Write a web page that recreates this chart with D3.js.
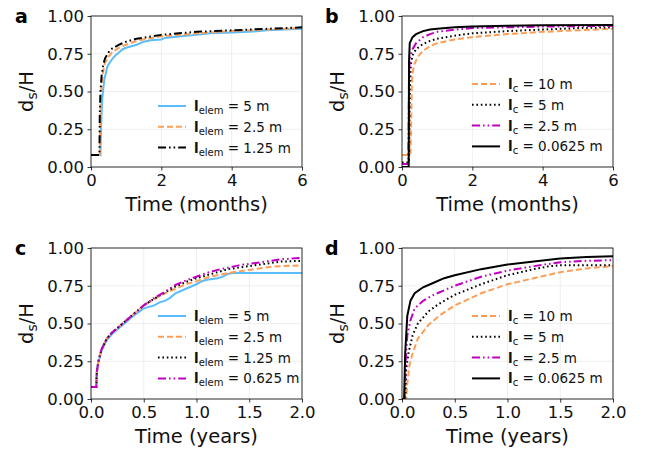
<!DOCTYPE html>
<html>
<head>
<meta charset="utf-8">
<title>Settlement curves</title>
<script src="https://d3js.org/d3.v7.min.js"></script>
<style>
  body { margin: 0; background: #fff; }
  text { font-family: 'DejaVu Sans', sans-serif; fill: #111; }
  .tick-label { font-size: 16.5px; }
  .axis-label { font-size: 19.5px; }
  .legend text { font-size: 13.5px; }
  .panel-label { font-size: 19px; font-weight: bold; fill: #000; }
  .grid line { stroke: #ebebeb; stroke-width: 0.8; }
  .curve { fill: none; stroke-width: 2; }
</style>
</head>
<body>
<script>
// tick values
var yTicks = [0, 0.25, 0.5, 0.75, 1.0];
var monthTicks = [0, 2, 4, 6];
var yearTicks = [0, 0.5, 1.0, 1.5, 2.0];

// panel a: element size, time in months
var aElem5 = [[0,0.08],[0.27,0.08],[0.28,0.2],[0.3,0.35],[0.32,0.45],[0.35,0.52],[0.38,0.58],[0.42,0.62],[0.46,0.66],[0.5,0.68],[0.56,0.7],[0.62,0.72],[0.7,0.74],[0.8,0.76],[0.9,0.78],[1.0,0.79],[1.15,0.8],[1.3,0.81],[1.5,0.83],[1.7,0.84],[2.0,0.845],[2.1,0.855],[2.5,0.865],[3.0,0.875],[3.4,0.885],[4.0,0.89],[4.5,0.895],[5.0,0.905],[5.5,0.91],[6.0,0.915]];
var aElem25 = [[0,0.08],[0.25,0.08],[0.26,0.3],[0.28,0.45],[0.3,0.55],[0.35,0.64],[0.4,0.69],[0.5,0.73],[0.6,0.76],[0.8,0.79],[1.0,0.81],[1.3,0.835],[1.6,0.85],[2.0,0.865],[2.5,0.875],[3.0,0.885],[4.0,0.9],[5.0,0.91],[6.0,0.92]];
var aElem125 = [[0,0.08],[0.24,0.08],[0.25,0.35],[0.27,0.5],[0.3,0.6],[0.35,0.68],[0.4,0.72],[0.5,0.76],[0.6,0.785],[0.8,0.81],[1.0,0.83],[1.3,0.85],[1.6,0.86],[2.0,0.875],[2.5,0.885],[3.0,0.895],[4.0,0.905],[5.0,0.915],[6.0,0.925]];

// panel b: correlation length, time in months
var bC10 = [[0,0.08],[0.24,0.08],[0.26,0.3],[0.28,0.55],[0.3,0.62],[0.35,0.68],[0.45,0.73],[0.6,0.77],[0.8,0.8],[1.0,0.82],[1.5,0.845],[2.0,0.86],[3.0,0.88],[4.0,0.895],[5.0,0.905],[6.0,0.915]];
var bC5 = [[0,0.03],[0.2,0.03],[0.22,0.5],[0.25,0.68],[0.3,0.74],[0.4,0.78],[0.6,0.815],[0.8,0.835],[1.0,0.85],[1.5,0.87],[2.0,0.885],[3.0,0.9],[4.0,0.91],[5.0,0.92],[6.0,0.925]];
var bC25 = [[0,0.02],[0.18,0.02],[0.2,0.6],[0.22,0.72],[0.3,0.78],[0.4,0.82],[0.6,0.86],[0.8,0.88],[1.0,0.895],[1.5,0.91],[2.0,0.92],[3.0,0.925],[4.0,0.93],[6.0,0.935]];
var bC00625 = [[0,0.0],[0.19,0.0],[0.2,0.7],[0.22,0.82],[0.3,0.86],[0.4,0.88],[0.6,0.9],[0.8,0.91],[1.0,0.915],[1.5,0.925],[2.0,0.93],[3.0,0.935],[4.0,0.938],[6.0,0.94]];

// panel c: element size, time in years
var cElem5 = [[0,0.08],[0.05,0.08],[0.055,0.18],[0.07,0.24],[0.1,0.32],[0.15,0.39],[0.2,0.43],[0.25,0.46],[0.3,0.49],[0.35,0.52],[0.4,0.55],[0.5,0.6],[0.6,0.62],[0.65,0.64],[0.7,0.65],[0.75,0.67],[0.8,0.7],[0.9,0.73],[1.0,0.76],[1.05,0.78],[1.1,0.79],[1.2,0.8],[1.25,0.81],[1.3,0.83],[1.35,0.835],[2.0,0.835]];
var cElem25 = [[0,0.08],[0.05,0.08],[0.055,0.18],[0.07,0.25],[0.1,0.33],[0.15,0.4],[0.2,0.44],[0.25,0.47],[0.3,0.5],[0.35,0.53],[0.4,0.56],[0.5,0.62],[0.6,0.66],[0.7,0.7],[0.8,0.73],[0.9,0.76],[1.0,0.78],[1.1,0.805],[1.2,0.82],[1.3,0.835],[1.4,0.845],[1.5,0.855],[1.6,0.865],[1.7,0.875],[1.8,0.88],[2.0,0.885]];
var cElem125 = [[0,0.08],[0.05,0.08],[0.055,0.18],[0.07,0.25],[0.1,0.33],[0.15,0.4],[0.2,0.44],[0.25,0.47],[0.3,0.5],[0.35,0.53],[0.4,0.56],[0.5,0.62],[0.6,0.665],[0.7,0.705],[0.8,0.745],[0.9,0.775],[1.0,0.8],[1.1,0.82],[1.2,0.84],[1.3,0.86],[1.4,0.87],[1.5,0.88],[1.6,0.89],[1.7,0.9],[1.8,0.91],[2.0,0.915]];
var cElem0625 = [[0,0.08],[0.05,0.08],[0.055,0.18],[0.07,0.25],[0.1,0.33],[0.15,0.4],[0.2,0.44],[0.25,0.47],[0.3,0.5],[0.35,0.53],[0.4,0.56],[0.5,0.62],[0.6,0.67],[0.7,0.71],[0.8,0.755],[0.9,0.785],[1.0,0.81],[1.1,0.835],[1.2,0.855],[1.3,0.87],[1.4,0.885],[1.5,0.895],[1.6,0.905],[1.7,0.915],[1.8,0.925],[2.0,0.935]];

// panel d: correlation length, time in years
var dC10 = [[0,0],[0.04,0],[0.05,0.1],[0.07,0.22],[0.1,0.3],[0.15,0.4],[0.25,0.49],[0.35,0.55],[0.5,0.62],[0.75,0.7],[1.0,0.76],[1.25,0.8],[1.5,0.84],[1.75,0.865],[2.0,0.88]];
var dC5 = [[0,0],[0.03,0],[0.04,0.2],[0.06,0.3],[0.1,0.42],[0.15,0.5],[0.25,0.58],[0.35,0.63],[0.5,0.69],[0.75,0.76],[1.0,0.82],[1.25,0.86],[1.4,0.88],[1.5,0.885],[2.0,0.885]];
var dC25 = [[0,0],[0.025,0],[0.035,0.25],[0.05,0.42],[0.08,0.52],[0.12,0.6],[0.2,0.65],[0.3,0.69],[0.4,0.72],[0.5,0.75],[0.75,0.81],[1.0,0.85],[1.25,0.88],[1.5,0.905],[1.75,0.915],[2.0,0.92]];
var dC00625 = [[0,0],[0.02,0],[0.03,0.3],[0.05,0.55],[0.08,0.65],[0.12,0.7],[0.2,0.74],[0.3,0.77],[0.4,0.8],[0.5,0.82],[0.75,0.86],[1.0,0.89],[1.25,0.91],[1.5,0.93],[1.75,0.94],[2.0,0.945]];

// line styles
var blue = "#5bbcfb", orange = "#fd9e56", magenta = "#c000c0", black = "#000";
var solid = null, dashed = "6,3", dotted = "1.6,2.8", dashdotdot = "8,3,1.6,3,1.6,3";

var panels = [
  {label: "a", x0: 91, y0: 16, xmax: 6, ticks: monthTicks, fmt: d3.format("d"), xlab: "Time (months)", sub: "elem", legendTop: 106,
   series: [
     {name: "5 m", data: aElem5, color: blue, dash: solid},
     {name: "2.5 m", data: aElem25, color: orange, dash: dashed},
     {name: "1.25 m", data: aElem125, color: black, dash: dashdotdot}
   ]},
  {label: "b", x0: 402, y0: 16, xmax: 6, ticks: monthTicks, fmt: d3.format("d"), xlab: "Time (months)", sub: "c", legendTop: 84,
   series: [
     {name: "10 m", data: bC10, color: orange, dash: dashed},
     {name: "5 m", data: bC5, color: black, dash: dotted},
     {name: "2.5 m", data: bC25, color: magenta, dash: dashdotdot},
     {name: "0.0625 m", data: bC00625, color: black, dash: solid}
   ]},
  {label: "c", x0: 91, y0: 248, xmax: 2, ticks: yearTicks, fmt: d3.format(".1f"), xlab: "Time (years)", sub: "elem", legendTop: 316,
   series: [
     {name: "5 m", data: cElem5, color: blue, dash: solid},
     {name: "2.5 m", data: cElem25, color: orange, dash: dashed},
     {name: "1.25 m", data: cElem125, color: black, dash: dotted},
     {name: "0.625 m", data: cElem0625, color: magenta, dash: dashdotdot}
   ]},
  {label: "d", x0: 402, y0: 248, xmax: 2, ticks: yearTicks, fmt: d3.format(".1f"), xlab: "Time (years)", sub: "c", legendTop: 316,
   series: [
     {name: "10 m", data: dC10, color: orange, dash: dashed},
     {name: "5 m", data: dC5, color: black, dash: dotted},
     {name: "2.5 m", data: dC25, color: magenta, dash: dashdotdot},
     {name: "0.0625 m", data: dC00625, color: black, dash: solid}
   ]}
];

var pw = 211, ph = 151;

var svg = d3.select("body").append("svg")
    .attr("width", 654)
    .attr("height", 455);

panels.forEach(function(p, pi) {
  var x = d3.scaleLinear().domain([0, p.xmax]).range([0, pw]);
  var y = d3.scaleLinear().domain([0, 1]).range([ph, 0]);

  var g = svg.append("g").attr("transform", "translate(" + p.x0 + "," + p.y0 + ")");

  // grid
  var grid = g.append("g").attr("class", "grid");
  grid.selectAll(".gx").data(p.ticks).enter().append("line")
      .attr("x1", d => x(d)).attr("x2", d => x(d)).attr("y1", 0).attr("y2", ph);
  grid.selectAll(".gy").data(yTicks).enter().append("line")
      .attr("y1", d => y(d)).attr("y2", d => y(d)).attr("x1", 0).attr("x2", pw);

  // curves
  svg.append("defs").append("clipPath").attr("id", "clip" + pi)
    .append("rect").attr("width", pw).attr("height", ph);
  var cg = g.append("g").attr("clip-path", "url(#clip" + pi + ")");
  p.series.forEach(function(s) {
    var line = d3.line()
        .x(d => x(d[0])).y(d => y(d[1]));
    cg.append("path")
        .attr("class", "curve")
        .attr("d", line(s.data))
        .attr("stroke", s.color)
        .attr("stroke-dasharray", s.dash);
  });

  // axes
  var xAxis = d3.axisBottom(x).tickValues(p.ticks).tickFormat(p.fmt).tickSize(3.5).tickPadding(3.5);
  var yAxis = d3.axisLeft(y).tickValues(yTicks).tickFormat(d3.format(".2f")).tickSize(3.5).tickPadding(3.5);
  var xa = g.append("g").attr("transform", "translate(0," + ph + ")").call(xAxis);
  var ya = g.append("g").call(yAxis);
  [xa, ya].forEach(function(a) {
    a.attr("font-family", null).attr("font-size", null);
    a.select(".domain").remove();
    a.selectAll(".tick line").attr("stroke", "#000").attr("stroke-width", 0.8);
    a.selectAll(".tick text").attr("class", "tick-label").attr("fill", null);
  });

  // frame
  g.append("rect").attr("width", pw).attr("height", ph)
      .attr("fill", "none").attr("stroke", "#000").attr("stroke-width", 0.8);

  // axis labels
  g.append("text").attr("class", "axis-label")
      .attr("x", pw / 2).attr("y", ph + 44)
      .attr("text-anchor", "middle")
      .text(p.xlab);
  var yl = g.append("text").attr("class", "axis-label")
      .attr("transform", "translate(-58," + (ph / 2) + ") rotate(-90)")
      .attr("text-anchor", "middle");
  yl.append("tspan").text("d");
  yl.append("tspan").attr("font-size", "14px").attr("dy", 4).text("s");
  yl.append("tspan").attr("dy", -4).text("/H");

  // panel label
  svg.append("text").attr("class", "panel-label")
      .attr("x", p.x0 - (pi % 2 ? 77 : 76)).attr("y", p.y0 + 7)
      .text(p.label);

  // legend
  var lg = g.append("g").attr("class", "legend");
  p.series.forEach(function(s, i) {
    var ly = p.legendTop - p.y0 + i * 20.8;
    var lx = (pi % 2 ? 70 : 67);
    lg.append("line")
        .attr("x1", lx).attr("x2", lx + 28).attr("y1", ly).attr("y2", ly)
        .attr("stroke", s.color).attr("stroke-width", 2)
        .attr("stroke-dasharray", s.dash);
    var t = lg.append("text").attr("x", lx + 36).attr("y", ly + 5);
    t.append("tspan").attr("font-weight", "bold").text("l");
    t.append("tspan").attr("font-size", "10px").attr("dy", 3).text(p.sub);
    t.append("tspan").attr("dy", -3).text(" = " + s.name);
  });
});
</script>
</body>
</html>
